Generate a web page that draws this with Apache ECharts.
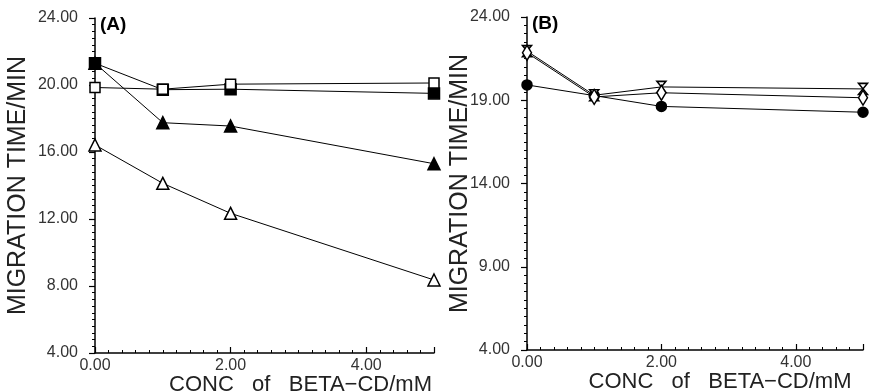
<!DOCTYPE html>
<html><head><meta charset="utf-8">
<script src="https://cdn.jsdelivr.net/npm/echarts@6/dist/echarts.min.js"></script>
<style>html,body{margin:0;padding:0;background:#fff}#c{width:870px;height:392px}</style>
</head><body><div id="c"></div>
<script>
const conc = [0, 1, 2, 5];
// Panel A
const aFilledSquare = [21.3, 19.72, 19.75, 19.5];
const aOpenSquare = [19.85, 19.75, 20.05, 20.12];
const aFilledTriangle = [21.3, 17.75, 17.55, 15.3];
const aOpenTriangle = [16.42, 14.13, 12.34, 8.36];
// Panel B
const bCircle = [19.92, 19.28, 18.63, 18.28];
const bDiamond = [21.85, 19.2, 19.45, 19.15];
const bStar = [21.95, 19.3, 19.8, 19.68];
const xTicks = [0, 2, 4];
const aYTicks = [4, 8, 12, 16, 20, 24];
const bYTicks = [4, 9, 14, 19, 24];

const pairs = v => conc.map((x, i) => [x, v[i]]);
const lbl = {fontFamily: 'Liberation Sans, Arial', fontSize: 16, color: '#333'};
function xAxis(idx, padLeft) {
  return {
    type: 'value', gridIndex: idx, min: 0, max: 5, interval: 2,
    name: 'CONC   of   BETA\u2212CD/mM', nameLocation: 'middle',
    nameGap: 21, nameMoveOverlap: false,
    nameTextStyle: {fontFamily: 'Liberation Sans, Arial', fontSize: 22, color: '#222', padding: [0, 0, 0, padLeft]},
    axisLine: {show: true, onZero: false, lineStyle: {color: '#000', width: 1.5}},
    axisTick: {show: true, inside: true, length: 6, lineStyle: {color: '#000', width: 1.2}},
    minorTick: {show: true, splitNumber: 10, length: 3, lineStyle: {color: '#000', width: 1}},
    splitLine: {show: false},
    axisLabel: Object.assign({margin: 5, showMaxLabel: false, formatter: v => xTicks.includes(v) ? v.toFixed(2) : ''}, lbl)
  };
}
function yAxis(idx, interval, gap, ticks) {
  return {
    type: 'value', gridIndex: idx, min: 4, max: 24, interval: interval,
    name: 'MIGRATION TIME/MIN', nameLocation: 'middle', nameGap: gap, nameMoveOverlap: false,
    nameTextStyle: {fontFamily: 'Liberation Sans, Arial', fontSize: 25, color: '#222'},
    axisLine: {show: true, onZero: false, lineStyle: {color: '#000', width: 1.5}},
    axisTick: {show: true, inside: false, length: 6, lineStyle: {color: '#000', width: 1.2}},
    minorTick: {show: true, splitNumber: 10, length: 3, lineStyle: {color: '#000', width: 1}},
    splitLine: {show: false},
    axisLabel: Object.assign({margin: 17, formatter: v => ticks.includes(v) ? v.toFixed(2) : ''}, lbl)
  };
}
function ser(name, data, idx, symbol, size, fill) {
  return {
    name: name, type: 'line', xAxisIndex: idx, yAxisIndex: idx, data: pairs(data),
    symbol: symbol, symbolSize: size, showSymbol: true,
    lineStyle: {color: '#000', width: 1},
    itemStyle: {color: fill, borderColor: '#000', borderWidth: 1.5},
    animation: false, z: fill === '#000' ? 3 : 4
  };
}
const hourglass = 'path://M0,0 L10,0 L0,12 L10,12 Z';
const chart = echarts.init(document.getElementById('c'), null, {renderer: 'canvas'});
chart.setOption({
  animation: false,
  backgroundColor: '#fff',
  grid: [
    {left: 95, width: 339, top: 18, height: 335, containLabel: false, outerBoundsMode: 'none'},
    {left: 527, width: 336, top: 17, height: 333, containLabel: false, outerBoundsMode: 'none'}
  ],
  xAxis: [xAxis(0, 72), xAxis(1, 50)],
  yAxis: [yAxis(0, 4, 64, aYTicks), yAxis(1, 5, 54, bYTicks)],
  graphic: [
    {type: 'text', left: 100, top: 15, style: {text: '(A)', font: 'bold 19px Liberation Sans, Arial', fill: '#000'}},
    {type: 'text', left: 532, top: 14, style: {text: '(B)', font: 'bold 19px Liberation Sans, Arial', fill: '#000'}}
  ],
  series: [
    ser('A filled triangle', aFilledTriangle, 0, 'triangle', 12, '#000'),
    ser('A open triangle', aOpenTriangle, 0, 'triangle', 12, '#fff'),
    ser('A open square', aOpenSquare, 0, 'rect', 10, '#fff'),
    ser('A filled square', aFilledSquare, 0, 'rect', 11, '#000'),
    ser('B circle', bCircle, 1, 'circle', 10, '#000'),
    ser('B star', bStar, 1, hourglass, [9, 11], '#fff'),
    ser('B diamond', bDiamond, 1, 'diamond', [9, 15], '#fff')
  ]
});
</script></body></html>
